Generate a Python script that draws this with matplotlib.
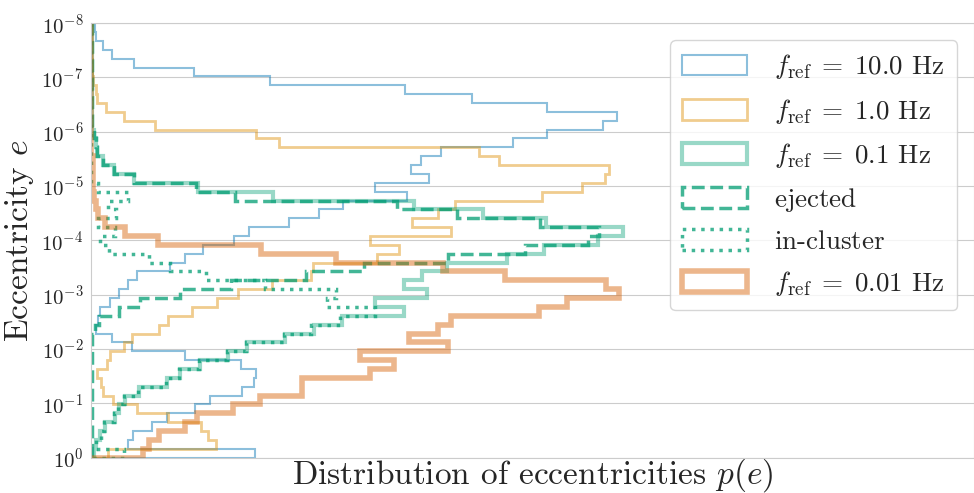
import matplotlib
matplotlib.use("Agg")
import matplotlib.pyplot as plt
import numpy as np
import seaborn as sns

sns.set_style("whitegrid")
plt.rcParams.update({
    "font.family": "serif",
    "font.serif": ["cmr10", "DejaVu Serif"],
    "mathtext.fontset": "cm",
    "axes.formatter.use_mathtext": True,
    "axes.unicode_minus": False,
})

# log-spaced eccentricity bins, 10^-8 .. 10^0
E_BINS = np.logspace(-8, 0, 50)

# histogram heights per bin (arbitrary units), top bin first
HIST_10HZ = [4, 5, 12, 21, 43, 103, 179, 314, 381, 456, 526, 512, 456, 422, 350, 330,
             320, 338, 284, 316, 252, 228, 198, 158, 143, 112, 94, 79, 46, 37, 28, 19,
             9, 7, 5, 21, 41, 94, 150, 165, 163, 151, 119, 104, 76, 61, 42, 37, 164]
HIST_1HZ = [0.5, 0.5, 0.5, 0.5, 1, 1, 2, 5, 6, 15, 33, 64, 165, 188, 388, 408,
            518, 514, 491, 451, 364, 347, 321, 360, 279, 308, 286, 222, 220, 181, 147, 126,
            101, 77, 68, 41, 33, 19, 16, 6, 10, 12, 22, 46, 77, 110, 117, 125, 17]
HIST_01HZ = [1, 1, 1, 1, 1, 1, 1, 1, 1, 1, 1.5, 1.5, 3, 5, 6, 12,
             23, 43, 107, 182, 323, 392, 455, 532, 507, 453, 416, 356, 331, 313, 336, 284,
             313, 251, 223, 194, 156, 137, 109, 89, 76, 48, 34, 28, 24, 14, 9, 5, 3]
HIST_EJECTED = [1, 1, 1, 1, 1, 1, 1, 1, 1, 1, 1, 1, 3, 5, 6, 12,
                23, 43, 105, 144, 306, 366, 449, 508, 497, 434, 357, 273, 215, 140, 89, 49,
                28, 8, 4, 1, 1, 1, 1, 1, 1, 1, 1, 1, 1, 1, 1, 1, 1]
HIST_INCLUSTER = [0, 0, 0, 0, 0, 0, 0, 0, 0, 0, 0, 0, 0, 0, 0, 0,
                  0, 0, 7, 37, 17, 25, 7, 24, 9, 18, 58, 79, 115, 174, 245, 236,
                  284, 249, 220, 193, 155, 136, 108, 88, 75, 47, 33, 27, 23, 13, 10, 5, 33]
HIST_001HZ = [0.5, 0.5, 0.5, 0.5, 0.5, 0.5, 0.5, 0.5, 0.5, 0.5, 0.5, 0.5, 0.5, 0.5, 0.5, 2,
              2, 2, 2, 3, 5, 7, 14, 34, 67, 170, 245, 352, 414, 515, 528, 476,
              448, 360, 347, 318, 357, 269, 303, 279, 211, 211, 169, 142, 106, 94, 68, 58, 52]

X_MAX = 883

BLUE, ORANGE, GREEN, RED = "#0173b2", "#de8f05", "#029e73", "#d55e00"

SERIES = [
    (HIST_10HZ, r"$f_{\rm ref}\;=\;10.0$ Hz", dict(color=BLUE, lw=1.5, alpha=0.45)),
    (HIST_1HZ, r"$f_{\rm ref}\;=\;1.0$ Hz", dict(color=ORANGE, lw=2.0, alpha=0.45)),
    (HIST_01HZ, r"$f_{\rm ref}\;=\;0.1$ Hz", dict(color=GREEN, lw=3.0, alpha=0.4)),
    (HIST_EJECTED, r"$\mathrm{ejected}$", dict(color=GREEN, lw=2.5, alpha=0.75, ls="--")),
    (HIST_INCLUSTER, r"$\mathrm{in}$-$\mathrm{cluster}$",
     dict(color=GREEN, lw=2.5, alpha=0.75, ls=":")),
    (HIST_001HZ, r"$f_{\rm ref}\;=\;0.01$ Hz", dict(color=RED, lw=4.0, alpha=0.45)),
]


def main() -> None:
    fig = plt.figure(figsize=(9.74, 4.93), dpi=100)
    ax = fig.add_axes([0.0934, 0.0716, 0.9066, 0.8814])

    centers = np.sqrt(E_BINS[:-1] * E_BINS[1:])
    for values, label, style in SERIES:
        ax.hist(centers, bins=E_BINS, weights=values, histtype="step",
                orientation="horizontal", label=label, **style)

    ax.set_yscale("log")
    ax.set_ylim(1.0, 1e-8)
    ax.set_xlim(0, X_MAX)
    ax.set_xticks([])
    ax.minorticks_off()
    ax.set_yticks([10.0 ** k for k in range(-8, 1)])
    ax.tick_params(axis="y", labelsize=15, colors=".15", pad=2)
    ax.grid(axis="x", visible=False)

    ax.set_ylabel(r"Eccentricity $e$", fontsize=24, color=".15", labelpad=4)
    ax.set_xlabel(r"Distribution of eccentricities $p(e)$", fontsize=24,
                  color=".15", labelpad=-1)

    ax.legend(loc="upper right", bbox_to_anchor=(0.981, 0.961), borderaxespad=0.0,
              fontsize=19.5, handlelength=2.4, handleheight=0.8,
              labelspacing=0.57, borderpad=0.45, handletextpad=1.0, frameon=True)

    fig.savefig("out.png", dpi=100, facecolor="white")


if __name__ == "__main__":
    main()
